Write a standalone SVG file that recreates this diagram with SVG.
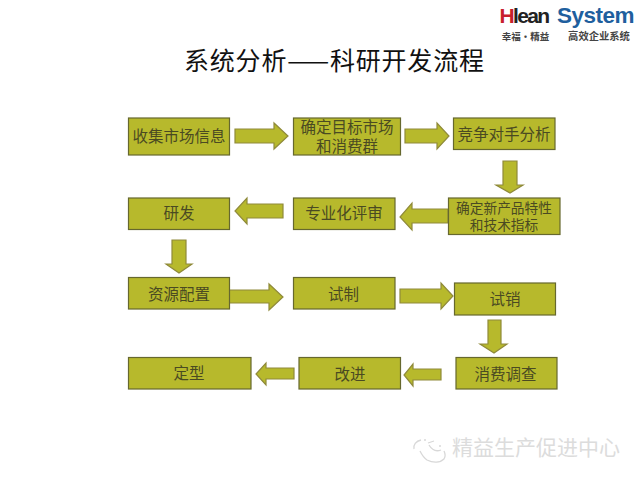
<svg xmlns="http://www.w3.org/2000/svg" width="640" height="480" viewBox="0 0 640 480">
<style>
text{font-family:"Noto Sans CJK SC","Liberation Sans",sans-serif;text-anchor:middle}
.b{fill:#b7b92c;stroke:#66682e;stroke-width:1.2}
.a{fill:#b7b92c;stroke:#8f8a3a;stroke-width:1.2;stroke-linejoin:miter}
.t{font-size:15.500px;fill:#4a4a22}
.s{font-size:13.700px;fill:#4a4a22}
.w{font-size:21px;fill:#dcdcdc}
.l{font-family:"Liberation Sans",sans-serif;font-weight:bold}
</style>
<rect width="640" height="480" fill="#fff"/>
<g id="logo">
<text class="l" x="524" y="23" font-size="21" letter-spacing="-1.6"><tspan fill="#c8202c">H</tspan><tspan fill="#222">lean</tspan></text>
<text class="l" x="595.500" y="23" font-size="22.500" letter-spacing="-.5" fill="#1f5f9e">System</text>
<text x="525.500" y="39.500" font-size="9.500" font-weight="bold" fill="#444">幸福·精益</text>
<text x="599" y="39.500" font-size="10.300" font-weight="bold" fill="#444">高效企业系统</text>
</g>
<text id="title" x="334" y="70" font-size="25" fill="#111" textLength="300">系统分析——科研开发流程</text>
<g id="connectors">
<polygon class="a" points="235,129 274,129 274,123 288,136 274,149 274,143 235,143"/>
<polygon class="a" points="405,129 437,129 437,123 449,136 437,149 437,143 405,143"/>
<polygon class="a" points="503,161 517,161 517,185 523,185 510,193 496,185 503,185"/>
<polygon class="a" points="448,209 412,209 412,203 400,217 412,230 412,223 448,223"/>
<polygon class="a" points="283,204 247,204 247,198 235,211 247,224 247,218 283,218"/>
<polygon class="a" points="172,240 186,240 186,264 192,264 179,273 166,264 172,264"/>
<polygon class="a" points="229,290 269,290 269,284 283,297 269,310 269,303 229,303"/>
<polygon class="a" points="400,289 441,289 441,283 453,296 441,309 441,303 400,303"/>
<polygon class="a" points="488,320 501,320 501,344 507,344 494,353 480,344 488,344"/>
<polygon class="a" points="441,369 413,369 413,364 404,375 413,386 413,380 441,380"/>
<polygon class="a" points="294,368 266,368 266,363 256,374 266,385 266,379 294,379"/>
</g>
<g id="n1"><rect class="b" x="128.500" y="118" width="101" height="37"/><text class="t" x="179" y="142">收集市场信息</text></g>
<g id="n2"><rect class="b" x="293.500" y="118" width="107" height="37"/><text class="t" x="347" y="132.500" style="font-size:15.500px">确定目标市场</text><text class="t" x="347" y="151.500">和消费群</text></g>
<g id="n3"><rect class="b" x="453.500" y="118" width="101.500" height="31.500"/><text class="t" x="504" y="140">竞争对手分析</text></g>
<g id="n4"><rect class="b" x="448.500" y="198" width="111.500" height="36.500"/><text class="s" x="504" y="213">确定新产品特性</text><text class="s" x="504" y="230">和技术指标</text></g>
<g id="n5"><rect class="b" x="293.500" y="198" width="101.500" height="31.500"/><text class="t" x="344" y="219">专业化评审</text></g>
<g id="n6"><rect class="b" x="128.500" y="198" width="101" height="31.500"/><text class="t" x="179" y="219">研发</text></g>
<g id="n7"><rect class="b" x="128.500" y="277.500" width="101" height="31.500"/><text class="t" x="179" y="299.500">资源配置</text></g>
<g id="n8"><rect class="b" x="293.500" y="277.500" width="101.500" height="31.500"/><text class="t" x="343.500" y="299.500">试制</text></g>
<g id="n9"><rect class="b" x="454.500" y="283" width="101" height="32"/><text class="t" x="505" y="304.500">试销</text></g>
<g id="n10"><rect class="b" x="456" y="357.500" width="101" height="31.500"/><text class="t" x="505.500" y="379.500">消费调查</text></g>
<g id="n11"><rect class="b" x="299" y="357.500" width="101.500" height="31.500"/><text class="t" x="350" y="379.500">改进</text></g>
<g id="n12"><rect class="b" x="128.500" y="357.500" width="122.500" height="31.500"/><text class="t" x="189" y="378.500">定型</text></g>
<g id="watermark">
<path d="M421 440c-5 1-8 5-7 9M420 451c2 4 4 7 7 9 6 3 13 3 17-1 2-3 1-6 0-8" fill="none" stroke="#d8d8d8" stroke-width="1.300"/>
<path d="M428 443l6-2M429 445c3 5 7 7 12 5" fill="none" stroke="#d8d8d8" stroke-width="1.300"/>
<circle cx="425" cy="440" r="1" fill="#d8d8d8"/><circle cx="440" cy="446" r="1" fill="#d8d8d8"/>
<text class="w" x="536" y="455">精益生产促进中心</text>
</g>
</svg>
